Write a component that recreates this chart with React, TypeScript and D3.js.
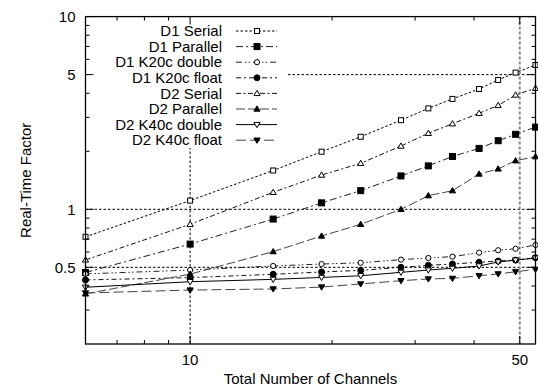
import React from 'react';
import * as d3 from 'd3';

// x positions (channels) shared by all series
const channels = [6, 10, 15, 19, 23, 28, 32, 36, 41, 45, 49, 54];

const d1Serial = [0.72, 1.11, 1.59, 1.99, 2.38, 2.9, 3.34, 3.74, 4.21, 4.69, 5.12, 5.61];
const d1Parallel = [0.47, 0.66, 0.89, 1.08, 1.25, 1.49, 1.68, 1.88, 2.07, 2.27, 2.45, 2.67];
const d1K20cDouble = [0.462, 0.484, 0.508, 0.52, 0.528, 0.548, 0.559, 0.568, 0.596, 0.613, 0.624, 0.653];
const d1K20cFloat = [0.43, 0.442, 0.46, 0.473, 0.482, 0.5, 0.512, 0.52, 0.531, 0.539, 0.545, 0.561];
const d2Serial = [0.546, 0.836, 1.225, 1.506, 1.733, 2.13, 2.48, 2.78, 3.15, 3.46, 3.92, 4.25];
const d2Parallel = [0.364, 0.461, 0.603, 0.727, 0.836, 1.0, 1.177, 1.249, 1.525, 1.62, 1.787, 1.875];
const d2K40cDouble = [0.394, 0.421, 0.433, 0.443, 0.452, 0.471, 0.484, 0.494, 0.508, 0.533, 0.545, 0.558];
const d2K40cFloat = [0.368, 0.381, 0.386, 0.395, 0.41, 0.426, 0.435, 0.438, 0.452, 0.462, 0.474, 0.488];

const seriesNames = [
  'D1 Serial', 'D1 Parallel', 'D1 K20c double', 'D1 K20c float',
  'D2 Serial', 'D2 Parallel', 'D2 K40c double', 'D2 K40c float',
];
const seriesValues = [
  d1Serial, d1Parallel, d1K20cDouble, d1K20cFloat,
  d2Serial, d2Parallel, d2K40cDouble, d2K40cFloat,
];

const xMajor = [10, 50];
const xMinor = [7, 8, 9, 20, 30, 40];
const yMajor = [0.5, 1, 5, 10];
const yMinor = [0.3, 0.4, 0.6, 0.7, 0.8, 0.9, 2, 3, 4, 6, 7, 8, 9];

const markers = ['sq', 'sqF', 'ci', 'ciF', 'tr', 'trF', 'td', 'tdF'];
const dashes = ['2.5,2', '7,3,2,3', '6,3,1.5,2,1.5,3', '5,3,2,3', '5,2.5,2,2.5', '9,3', '', '10,4'];
const strokes = ['#000', '#222', '#222', '#111', '#111', '#444', '#000', '#444'];

const W = 538;
const H = 387;
const L = 85.5, R = 535.5, T = 16.6, B = 344;
const FONT = '"Liberation Sans", Arial, Helvetica, sans-serif';

const Marker: React.FC<{ type: string; x: number; y: number }> = ({ type, x, y }) => {
  const filled = type.endsWith('F');
  const fill = filled ? '#000' : '#fff';
  const base = type.replace('F', '');
  if (base === 'sq') {
    const s = filled ? 3 : 2.5;
    return <rect x={x - s} y={y - s} width={2 * s} height={2 * s} fill={fill} stroke="#000" strokeWidth={1} />;
  }
  if (base === 'ci') {
    return <circle cx={x} cy={y} r={filled ? 3 : 2.6} fill={fill} stroke="#000" strokeWidth={1} />;
  }
  const s = 3.1;
  const pts = base === 'tr'
    ? [[x, y - s], [x + s, y + s * 0.7], [x - s, y + s * 0.7]]
    : [[x, y + s], [x + s, y - s * 0.7], [x - s, y - s * 0.7]];
  return <polygon points={pts.map(p => p.join(',')).join(' ')} fill={fill} stroke="#000" strokeWidth={1} />;
};

const App: React.FC = () => {
  const x = d3.scaleLog().domain([6, 54]).range([L, R]);
  const y = d3.scaleLog().domain([0.2, 10]).range([B, T]);

  const line = d3.line<number>()
    .x((_, i) => x(channels[i]))
    .y(d => y(d));

  const legendX = 222;
  const legendY0 = 31;
  const legendDy = 15.6;
  const boxBottom = 148;
  const boxRight = 287;

  return (
    <svg width={W} height={H} style={{ position: 'absolute', left: 0, top: 0, background: '#fff' }}
      fontFamily={FONT}>
      <rect x={0} y={0} width={W} height={H} fill="#fff" />

      {/* grid */}
      {yMajor.filter(v => v < 10).map(v => (
        <line key={'gy' + v} x1={L} x2={R} y1={y(v)} y2={y(v)} stroke="#000" strokeWidth={1} strokeDasharray="2.5,2" />
      ))}
      <line x1={x(10)} x2={x(10)} y1={T} y2={B} stroke="#000" strokeWidth={1} strokeDasharray="2.5,2" />
      <line x1={x(50)} x2={x(50)} y1={T} y2={B} stroke="#888" strokeWidth={2} strokeDasharray="3,2" />

      {/* opaque key background */}
      <rect x={L + 0.5} y={T + 0.5} width={boxRight - L - 0.5} height={boxBottom - T - 0.5} fill="#fff" />

      {/* series */}
      {seriesValues.map((vals, i) => (
        <g key={seriesNames[i]}>
          <path d={line(vals) || ''} fill="none" stroke={strokes[i]} strokeWidth={1}
            strokeDasharray={dashes[i] || undefined} />
          {vals.map((v, j) => (
            <Marker key={j} type={markers[i]} x={x(channels[j])} y={y(v)} />
          ))}
        </g>
      ))}

      {/* frame */}
      <rect x={L} y={T} width={R - L} height={B - T} fill="none" stroke="#000" strokeWidth={1.3} />

      {/* ticks */}
      {xMajor.map(v => (
        <g key={'xt' + v}>
          <line x1={x(v)} x2={x(v)} y1={B} y2={B - 8} stroke="#000" />
          <line x1={x(v)} x2={x(v)} y1={T} y2={T + 8} stroke="#000" />
          <text x={x(v)} y={364.5} fontSize={15} textAnchor="middle">{v}</text>
        </g>
      ))}
      {xMinor.map(v => (
        <g key={'xm' + v}>
          <line x1={x(v)} x2={x(v)} y1={B} y2={B - 4} stroke="#000" />
          <line x1={x(v)} x2={x(v)} y1={T} y2={T + 4} stroke="#000" />
        </g>
      ))}
      {yMajor.map(v => (
        <g key={'yt' + v}>
          <line x1={L} x2={L + 8} y1={y(v)} y2={y(v)} stroke="#000" />
          <line x1={R} x2={R - 8} y1={y(v)} y2={y(v)} stroke="#000" />
          <text x={75.5} y={y(v) + 5.2} fontSize={15} textAnchor="end">{v}</text>
        </g>
      ))}
      {yMinor.map(v => (
        <g key={'ym' + v}>
          <line x1={L} x2={L + 4} y1={y(v)} y2={y(v)} stroke="#000" />
          <line x1={R} x2={R - 4} y1={y(v)} y2={y(v)} stroke="#000" />
        </g>
      ))}

      {/* axis titles */}
      <text x={(L + R) / 2} y={383.5} fontSize={15} textAnchor="middle">Total Number of Channels</text>
      <text transform={`translate(31,${(T + B) / 2}) rotate(-90)`} fontSize={15} textAnchor="middle">Real-Time Factor</text>

      {/* legend */}
      {seriesNames.map((name, i) => {
        const ly = legendY0 + i * legendDy;
        return (
          <g key={'lg' + name}>
            <text x={legendX} y={ly + 5.2} fontSize={15} textAnchor="end">{name}</text>
            <line x1={236} x2={277} y1={ly} y2={ly} stroke={strokes[i]} strokeWidth={1}
              strokeDasharray={dashes[i] || undefined} />
            <Marker type={markers[i]} x={257} y={ly} />
          </g>
        );
      })}
    </svg>
  );
};

export default App;
